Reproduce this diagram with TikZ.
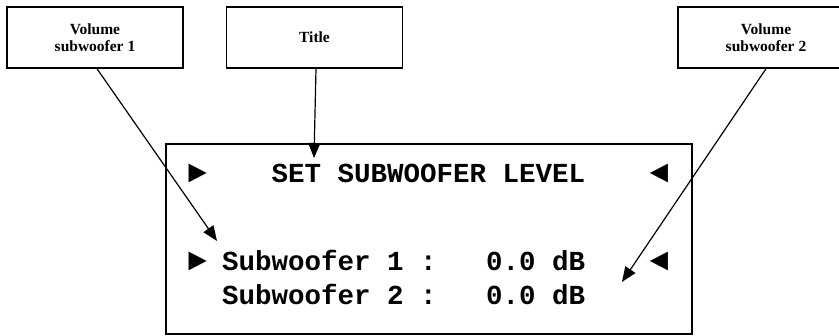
\documentclass[tikz,border=0pt]{standalone}
\usepackage{fontspec}
\setmainfont{Liberation Serif}
\setmonofont{Liberation Mono}
\usetikzlibrary{arrows.meta,positioning}

\newcommand{\rtri}{\makebox[0.6em][c]{\scalebox{1.15}{►}}}
\newcommand{\ltri}{\makebox[0.6em][c]{\scalebox{1.15}{◄}}}

\begin{document}
\begin{tikzpicture}[
  x=1pt, y=-1pt,
  callout/.style={draw, line width=1.5pt, minimum width=176pt, minimum height=61pt,
                  inner sep=0pt, align=center, font=\bfseries\fontsize{15.5}{17}\selectfont},
  lcd/.style={draw, line width=1.5pt},
  row/.style={anchor=base west, inner sep=0pt, font=\ttfamily\bfseries\fontsize{27.5}{30}\selectfont},
  arr/.style={-{Triangle[length=15pt, width=12pt]}, line width=1.2pt}
]
\useasboundingbox (0,0) rectangle (839,336);
% labels on top
\node[callout] (vol1) at (95,37.5) {Volume\\ subwoofer 1};
\node[callout, right=42pt of vol1] (title) {Title};
\node[callout, right=274pt of title] (vol2) {Volume\\ subwoofer 2};
% the display
\node[lcd, minimum width=526pt, minimum height=190pt, inner sep=0pt] (lcd) at (429,239) {};
\node[row] (line1) at (188.8,183) {\rtri~~~~SET SUBWOOFER LEVEL~~~~\ltri};
\node[row] (line2) at (188.8,271) {\rtri~Subwoofer 1~:~~~0.0 dB~~~~\ltri};
\node[row] (line3) at (188.8,305) {~~Subwoofer 2~:~~~0.0 dB};
% where the arrows point
\coordinate (pv1) at (217,241);
\coordinate (pt) at (314,158);
\coordinate (pv2) at (622,282);
\draw[arr] ([xshift=2pt]vol1.south) -- (pv1);
\draw[arr] ([xshift=1.5pt]title.south) -- (pt);
\draw[arr] (vol2.south) -- (pv2);
\end{tikzpicture}
\end{document}
